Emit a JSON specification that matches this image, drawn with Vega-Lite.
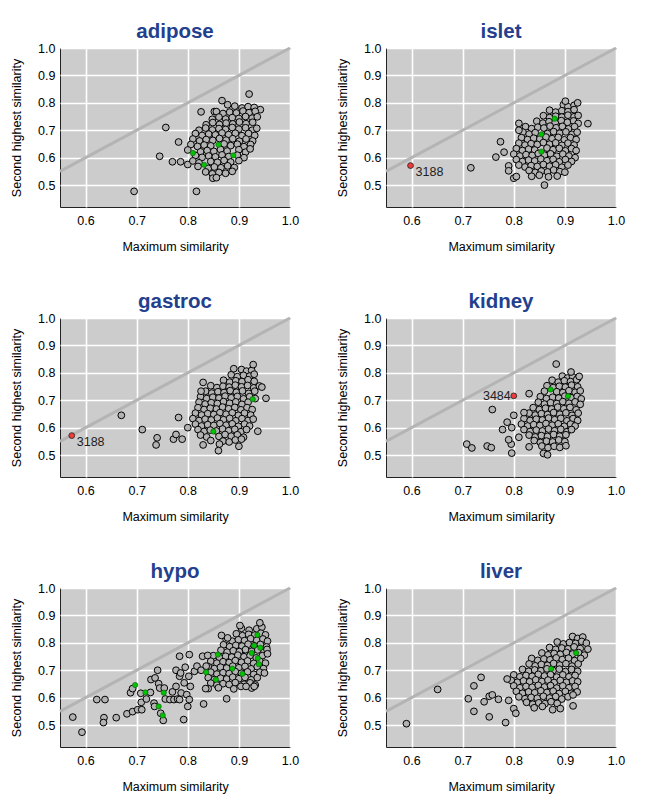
{
"$schema":"https://vega.github.io/schema/vega-lite/v6.json",
"padding":{"left":10,"top":21,"right":5,"bottom":5},
"data":{"values":[
{"p":"adipose","x":0.695,"y":0.477},{"p":"adipose","x":0.817,"y":0.477},{"p":"adipose","x":0.745,"y":0.605},{"p":"adipose","x":0.757,"y":0.71},{"p":"adipose","x":0.782,"y":0.657},{"p":"adipose","x":0.77,"y":0.585},{"p":"adipose","x":0.786,"y":0.585},{"p":"adipose","x":0.826,"y":0.767},{"p":"adipose","x":0.92,"y":0.832},{"p":"adipose","x":0.942,"y":0.775},{"p":"adipose","x":0.867,"y":0.808},{"p":"adipose","x":0.878,"y":0.793},{"p":"adipose","x":0.852,"y":0.768},{"p":"adipose","x":0.8,"y":0.575},
{"p":"adipose","x":0.892,"y":0.788},{"p":"adipose","x":0.906,"y":0.781},{"p":"adipose","x":0.918,"y":0.786},{"p":"adipose","x":0.93,"y":0.783},
{"p":"adipose","x":0.856,"y":0.768},{"p":"adipose","x":0.869,"y":0.761},{"p":"adipose","x":0.882,"y":0.766},{"p":"adipose","x":0.895,"y":0.763},{"p":"adipose","x":0.908,"y":0.77},{"p":"adipose","x":0.92,"y":0.764},{"p":"adipose","x":0.932,"y":0.769},
{"p":"adipose","x":0.848,"y":0.74},{"p":"adipose","x":0.861,"y":0.748},{"p":"adipose","x":0.874,"y":0.741},{"p":"adipose","x":0.887,"y":0.746},{"p":"adipose","x":0.9,"y":0.743},{"p":"adipose","x":0.913,"y":0.75},{"p":"adipose","x":0.926,"y":0.744},{"p":"adipose","x":0.936,"y":0.749},
{"p":"adipose","x":0.836,"y":0.72},{"p":"adipose","x":0.849,"y":0.728},{"p":"adipose","x":0.862,"y":0.721},{"p":"adipose","x":0.875,"y":0.726},{"p":"adipose","x":0.888,"y":0.723},{"p":"adipose","x":0.901,"y":0.73},{"p":"adipose","x":0.914,"y":0.724},{"p":"adipose","x":0.927,"y":0.729},
{"p":"adipose","x":0.822,"y":0.7},{"p":"adipose","x":0.835,"y":0.708},{"p":"adipose","x":0.848,"y":0.701},{"p":"adipose","x":0.861,"y":0.706},{"p":"adipose","x":0.874,"y":0.703},{"p":"adipose","x":0.887,"y":0.71},{"p":"adipose","x":0.9,"y":0.704},{"p":"adipose","x":0.913,"y":0.709},{"p":"adipose","x":0.926,"y":0.7},{"p":"adipose","x":0.935,"y":0.707},
{"p":"adipose","x":0.815,"y":0.688},{"p":"adipose","x":0.828,"y":0.681},{"p":"adipose","x":0.841,"y":0.686},{"p":"adipose","x":0.854,"y":0.683},{"p":"adipose","x":0.867,"y":0.69},{"p":"adipose","x":0.88,"y":0.684},{"p":"adipose","x":0.893,"y":0.689},{"p":"adipose","x":0.906,"y":0.68},{"p":"adipose","x":0.919,"y":0.688},{"p":"adipose","x":0.931,"y":0.681},
{"p":"adipose","x":0.81,"y":0.668},{"p":"adipose","x":0.823,"y":0.661},{"p":"adipose","x":0.836,"y":0.666},{"p":"adipose","x":0.849,"y":0.663},{"p":"adipose","x":0.862,"y":0.67},{"p":"adipose","x":0.875,"y":0.664},{"p":"adipose","x":0.888,"y":0.669},{"p":"adipose","x":0.901,"y":0.66},{"p":"adipose","x":0.914,"y":0.668},{"p":"adipose","x":0.927,"y":0.661},
{"p":"adipose","x":0.806,"y":0.648},{"p":"adipose","x":0.819,"y":0.641},{"p":"adipose","x":0.832,"y":0.646},{"p":"adipose","x":0.845,"y":0.643},{"p":"adipose","x":0.871,"y":0.65},{"p":"adipose","x":0.884,"y":0.644},{"p":"adipose","x":0.897,"y":0.649},{"p":"adipose","x":0.91,"y":0.64},{"p":"adipose","x":0.923,"y":0.648},
{"p":"adipose","x":0.8,"y":0.628},{"p":"adipose","x":0.825,"y":0.621},{"p":"adipose","x":0.838,"y":0.626},{"p":"adipose","x":0.851,"y":0.623},{"p":"adipose","x":0.864,"y":0.63},{"p":"adipose","x":0.877,"y":0.624},{"p":"adipose","x":0.9,"y":0.629},{"p":"adipose","x":0.913,"y":0.62},{"p":"adipose","x":0.922,"y":0.632},
{"p":"adipose","x":0.815,"y":0.608},{"p":"adipose","x":0.828,"y":0.601},{"p":"adipose","x":0.841,"y":0.606},{"p":"adipose","x":0.854,"y":0.603},{"p":"adipose","x":0.867,"y":0.61},{"p":"adipose","x":0.88,"y":0.604},{"p":"adipose","x":0.897,"y":0.609},{"p":"adipose","x":0.91,"y":0.6},
{"p":"adipose","x":0.81,"y":0.588},{"p":"adipose","x":0.822,"y":0.581},{"p":"adipose","x":0.845,"y":0.586},{"p":"adipose","x":0.858,"y":0.583},{"p":"adipose","x":0.871,"y":0.59},{"p":"adipose","x":0.884,"y":0.584},{"p":"adipose","x":0.9,"y":0.589},
{"p":"adipose","x":0.82,"y":0.568},{"p":"adipose","x":0.84,"y":0.561},{"p":"adipose","x":0.852,"y":0.566},{"p":"adipose","x":0.865,"y":0.563},{"p":"adipose","x":0.878,"y":0.57},{"p":"adipose","x":0.891,"y":0.564},
{"p":"adipose","x":0.835,"y":0.548},{"p":"adipose","x":0.848,"y":0.541},{"p":"adipose","x":0.861,"y":0.546},{"p":"adipose","x":0.874,"y":0.543},{"p":"adipose","x":0.887,"y":0.55},
{"p":"adipose","x":0.849,"y":0.525},{"p":"adipose","x":0.856,"y":0.527},
{"p":"adipose","x":0.81,"y":0.617,"c":"g"},{"p":"adipose","x":0.832,"y":0.574,"c":"g"},{"p":"adipose","x":0.86,"y":0.647,"c":"g"},{"p":"adipose","x":0.889,"y":0.608,"c":"g"},

{"p":"islet","x":0.897,"y":0.793},{"p":"islet","x":0.906,"y":0.786},{"p":"islet","x":0.918,"y":0.791},
{"p":"islet","x":0.87,"y":0.773},{"p":"islet","x":0.882,"y":0.766},{"p":"islet","x":0.894,"y":0.771},{"p":"islet","x":0.906,"y":0.768},{"p":"islet","x":0.918,"y":0.775},
{"p":"islet","x":0.858,"y":0.753},{"p":"islet","x":0.87,"y":0.746},{"p":"islet","x":0.882,"y":0.751},{"p":"islet","x":0.894,"y":0.748},{"p":"islet","x":0.906,"y":0.755},{"p":"islet","x":0.918,"y":0.749},{"p":"islet","x":0.926,"y":0.754},
{"p":"islet","x":0.845,"y":0.733},{"p":"islet","x":0.857,"y":0.726},{"p":"islet","x":0.869,"y":0.731},{"p":"islet","x":0.881,"y":0.728},{"p":"islet","x":0.893,"y":0.735},{"p":"islet","x":0.905,"y":0.729},{"p":"islet","x":0.917,"y":0.734},{"p":"islet","x":0.926,"y":0.725},
{"p":"islet","x":0.823,"y":0.713},{"p":"islet","x":0.835,"y":0.706},{"p":"islet","x":0.847,"y":0.711},{"p":"islet","x":0.859,"y":0.708},{"p":"islet","x":0.871,"y":0.715},{"p":"islet","x":0.883,"y":0.709},{"p":"islet","x":0.895,"y":0.714},{"p":"islet","x":0.907,"y":0.705},{"p":"islet","x":0.919,"y":0.713},
{"p":"islet","x":0.818,"y":0.693},{"p":"islet","x":0.83,"y":0.686},{"p":"islet","x":0.842,"y":0.691},{"p":"islet","x":0.866,"y":0.688},{"p":"islet","x":0.878,"y":0.695},{"p":"islet","x":0.89,"y":0.689},{"p":"islet","x":0.902,"y":0.694},{"p":"islet","x":0.914,"y":0.685},{"p":"islet","x":0.924,"y":0.693},
{"p":"islet","x":0.815,"y":0.673},{"p":"islet","x":0.827,"y":0.666},{"p":"islet","x":0.839,"y":0.671},{"p":"islet","x":0.851,"y":0.668},{"p":"islet","x":0.863,"y":0.675},{"p":"islet","x":0.875,"y":0.669},{"p":"islet","x":0.887,"y":0.674},{"p":"islet","x":0.899,"y":0.665},{"p":"islet","x":0.911,"y":0.673},{"p":"islet","x":0.922,"y":0.666},
{"p":"islet","x":0.81,"y":0.653},{"p":"islet","x":0.822,"y":0.646},{"p":"islet","x":0.834,"y":0.651},{"p":"islet","x":0.846,"y":0.648},{"p":"islet","x":0.858,"y":0.655},{"p":"islet","x":0.87,"y":0.649},{"p":"islet","x":0.882,"y":0.654},{"p":"islet","x":0.894,"y":0.645},{"p":"islet","x":0.906,"y":0.653},{"p":"islet","x":0.918,"y":0.646},
{"p":"islet","x":0.805,"y":0.633},{"p":"islet","x":0.817,"y":0.626},{"p":"islet","x":0.829,"y":0.631},{"p":"islet","x":0.841,"y":0.628},{"p":"islet","x":0.865,"y":0.635},{"p":"islet","x":0.877,"y":0.629},{"p":"islet","x":0.889,"y":0.634},{"p":"islet","x":0.901,"y":0.625},{"p":"islet","x":0.913,"y":0.633},{"p":"islet","x":0.922,"y":0.626},
{"p":"islet","x":0.8,"y":0.613},{"p":"islet","x":0.812,"y":0.606},{"p":"islet","x":0.824,"y":0.611},{"p":"islet","x":0.836,"y":0.608},{"p":"islet","x":0.848,"y":0.615},{"p":"islet","x":0.86,"y":0.609},{"p":"islet","x":0.872,"y":0.614},{"p":"islet","x":0.884,"y":0.605},{"p":"islet","x":0.896,"y":0.613},{"p":"islet","x":0.908,"y":0.606},{"p":"islet","x":0.92,"y":0.6},
{"p":"islet","x":0.805,"y":0.593},{"p":"islet","x":0.817,"y":0.586},{"p":"islet","x":0.829,"y":0.591},{"p":"islet","x":0.841,"y":0.588},{"p":"islet","x":0.853,"y":0.595},{"p":"islet","x":0.865,"y":0.589},{"p":"islet","x":0.877,"y":0.594},{"p":"islet","x":0.889,"y":0.585},{"p":"islet","x":0.901,"y":0.593},{"p":"islet","x":0.913,"y":0.586},
{"p":"islet","x":0.81,"y":0.573},{"p":"islet","x":0.822,"y":0.566},{"p":"islet","x":0.834,"y":0.571},{"p":"islet","x":0.846,"y":0.568},{"p":"islet","x":0.858,"y":0.575},{"p":"islet","x":0.87,"y":0.569},{"p":"islet","x":0.882,"y":0.574},{"p":"islet","x":0.894,"y":0.565},{"p":"islet","x":0.906,"y":0.573},
{"p":"islet","x":0.83,"y":0.553},{"p":"islet","x":0.842,"y":0.546},{"p":"islet","x":0.854,"y":0.551},{"p":"islet","x":0.866,"y":0.548},{"p":"islet","x":0.878,"y":0.555},{"p":"islet","x":0.89,"y":0.549},{"p":"islet","x":0.9,"y":0.547},
{"p":"islet","x":0.835,"y":0.532},{"p":"islet","x":0.85,"y":0.536},{"p":"islet","x":0.868,"y":0.53},{"p":"islet","x":0.885,"y":0.533},
{"p":"islet","x":0.716,"y":0.563},{"p":"islet","x":0.765,"y":0.602},{"p":"islet","x":0.774,"y":0.658},{"p":"islet","x":0.781,"y":0.62},{"p":"islet","x":0.79,"y":0.57},{"p":"islet","x":0.79,"y":0.552},{"p":"islet","x":0.8,"y":0.525},{"p":"islet","x":0.805,"y":0.531},{"p":"islet","x":0.86,"y":0.5},{"p":"islet","x":0.945,"y":0.724},{"p":"islet","x":0.925,"y":0.8},{"p":"islet","x":0.901,"y":0.806},{"p":"islet","x":0.81,"y":0.725},{"p":"islet","x":0.81,"y":0.7},
{"p":"islet","x":0.854,"y":0.685,"c":"g"},{"p":"islet","x":0.854,"y":0.622,"c":"g"},{"p":"islet","x":0.88,"y":0.742,"c":"g"},
{"p":"islet","x":0.598,"y":0.571,"c":"r","l":"3188"},

{"p":"gastroc","x":0.905,"y":0.812},{"p":"gastroc","x":0.915,"y":0.806},{"p":"gastroc","x":0.925,"y":0.809},
{"p":"gastroc","x":0.885,"y":0.793},{"p":"gastroc","x":0.897,"y":0.786},{"p":"gastroc","x":0.909,"y":0.791},{"p":"gastroc","x":0.921,"y":0.788},{"p":"gastroc","x":0.93,"y":0.795},
{"p":"gastroc","x":0.87,"y":0.773},{"p":"gastroc","x":0.882,"y":0.766},{"p":"gastroc","x":0.894,"y":0.771},{"p":"gastroc","x":0.906,"y":0.768},{"p":"gastroc","x":0.918,"y":0.775},{"p":"gastroc","x":0.93,"y":0.769},
{"p":"gastroc","x":0.845,"y":0.753},{"p":"gastroc","x":0.857,"y":0.746},{"p":"gastroc","x":0.869,"y":0.751},{"p":"gastroc","x":0.881,"y":0.748},{"p":"gastroc","x":0.893,"y":0.755},{"p":"gastroc","x":0.905,"y":0.749},{"p":"gastroc","x":0.917,"y":0.754},{"p":"gastroc","x":0.929,"y":0.745},{"p":"gastroc","x":0.94,"y":0.752},
{"p":"gastroc","x":0.835,"y":0.733},{"p":"gastroc","x":0.847,"y":0.726},{"p":"gastroc","x":0.859,"y":0.731},{"p":"gastroc","x":0.871,"y":0.728},{"p":"gastroc","x":0.883,"y":0.735},{"p":"gastroc","x":0.895,"y":0.729},{"p":"gastroc","x":0.907,"y":0.734},{"p":"gastroc","x":0.919,"y":0.725},{"p":"gastroc","x":0.931,"y":0.733},
{"p":"gastroc","x":0.825,"y":0.713},{"p":"gastroc","x":0.837,"y":0.706},{"p":"gastroc","x":0.849,"y":0.711},{"p":"gastroc","x":0.861,"y":0.708},{"p":"gastroc","x":0.873,"y":0.715},{"p":"gastroc","x":0.885,"y":0.709},{"p":"gastroc","x":0.897,"y":0.714},{"p":"gastroc","x":0.909,"y":0.705},{"p":"gastroc","x":0.921,"y":0.713},{"p":"gastroc","x":0.932,"y":0.706},
{"p":"gastroc","x":0.822,"y":0.693},{"p":"gastroc","x":0.834,"y":0.686},{"p":"gastroc","x":0.846,"y":0.691},{"p":"gastroc","x":0.858,"y":0.688},{"p":"gastroc","x":0.87,"y":0.695},{"p":"gastroc","x":0.882,"y":0.689},{"p":"gastroc","x":0.894,"y":0.694},{"p":"gastroc","x":0.906,"y":0.685},{"p":"gastroc","x":0.918,"y":0.693},
{"p":"gastroc","x":0.82,"y":0.673},{"p":"gastroc","x":0.832,"y":0.666},{"p":"gastroc","x":0.844,"y":0.671},{"p":"gastroc","x":0.856,"y":0.668},{"p":"gastroc","x":0.868,"y":0.675},{"p":"gastroc","x":0.88,"y":0.669},{"p":"gastroc","x":0.892,"y":0.674},{"p":"gastroc","x":0.904,"y":0.665},{"p":"gastroc","x":0.916,"y":0.673},{"p":"gastroc","x":0.926,"y":0.666},
{"p":"gastroc","x":0.815,"y":0.653},{"p":"gastroc","x":0.827,"y":0.646},{"p":"gastroc","x":0.839,"y":0.651},{"p":"gastroc","x":0.851,"y":0.648},{"p":"gastroc","x":0.863,"y":0.655},{"p":"gastroc","x":0.875,"y":0.649},{"p":"gastroc","x":0.887,"y":0.654},{"p":"gastroc","x":0.899,"y":0.645},{"p":"gastroc","x":0.911,"y":0.653},{"p":"gastroc","x":0.923,"y":0.646},
{"p":"gastroc","x":0.81,"y":0.633},{"p":"gastroc","x":0.822,"y":0.626},{"p":"gastroc","x":0.834,"y":0.631},{"p":"gastroc","x":0.846,"y":0.628},{"p":"gastroc","x":0.858,"y":0.635},{"p":"gastroc","x":0.87,"y":0.629},{"p":"gastroc","x":0.882,"y":0.634},{"p":"gastroc","x":0.894,"y":0.625},{"p":"gastroc","x":0.906,"y":0.633},{"p":"gastroc","x":0.918,"y":0.626},{"p":"gastroc","x":0.928,"y":0.631},
{"p":"gastroc","x":0.815,"y":0.613},{"p":"gastroc","x":0.827,"y":0.606},{"p":"gastroc","x":0.839,"y":0.611},{"p":"gastroc","x":0.851,"y":0.608},{"p":"gastroc","x":0.863,"y":0.615},{"p":"gastroc","x":0.875,"y":0.609},{"p":"gastroc","x":0.887,"y":0.614},{"p":"gastroc","x":0.899,"y":0.605},{"p":"gastroc","x":0.911,"y":0.613},{"p":"gastroc","x":0.921,"y":0.606},
{"p":"gastroc","x":0.82,"y":0.593},{"p":"gastroc","x":0.832,"y":0.586},{"p":"gastroc","x":0.844,"y":0.591},{"p":"gastroc","x":0.856,"y":0.588},{"p":"gastroc","x":0.868,"y":0.595},{"p":"gastroc","x":0.88,"y":0.589},{"p":"gastroc","x":0.892,"y":0.594},{"p":"gastroc","x":0.904,"y":0.585},{"p":"gastroc","x":0.915,"y":0.593},
{"p":"gastroc","x":0.825,"y":0.573},{"p":"gastroc","x":0.837,"y":0.566},{"p":"gastroc","x":0.861,"y":0.568},{"p":"gastroc","x":0.873,"y":0.575},{"p":"gastroc","x":0.885,"y":0.569},{"p":"gastroc","x":0.897,"y":0.574},{"p":"gastroc","x":0.909,"y":0.565},
{"p":"gastroc","x":0.845,"y":0.553},{"p":"gastroc","x":0.869,"y":0.551},{"p":"gastroc","x":0.881,"y":0.548},{"p":"gastroc","x":0.893,"y":0.555},{"p":"gastroc","x":0.905,"y":0.558},
{"p":"gastroc","x":0.83,"y":0.537},{"p":"gastroc","x":0.862,"y":0.54},{"p":"gastroc","x":0.9,"y":0.532},
{"p":"gastroc","x":0.67,"y":0.645},{"p":"gastroc","x":0.711,"y":0.593},{"p":"gastroc","x":0.74,"y":0.563},{"p":"gastroc","x":0.738,"y":0.537},{"p":"gastroc","x":0.772,"y":0.558},{"p":"gastroc","x":0.777,"y":0.575},{"p":"gastroc","x":0.789,"y":0.558},{"p":"gastroc","x":0.782,"y":0.637},{"p":"gastroc","x":0.8,"y":0.6},{"p":"gastroc","x":0.86,"y":0.516},{"p":"gastroc","x":0.937,"y":0.587},{"p":"gastroc","x":0.953,"y":0.707},{"p":"gastroc","x":0.945,"y":0.748},{"p":"gastroc","x":0.928,"y":0.83},{"p":"gastroc","x":0.89,"y":0.815},{"p":"gastroc","x":0.83,"y":0.765},{"p":"gastroc","x":0.826,"y":0.733},
{"p":"gastroc","x":0.85,"y":0.586,"c":"g"},{"p":"gastroc","x":0.927,"y":0.704,"c":"g"},
{"p":"gastroc","x":0.573,"y":0.571,"c":"r","l":"3188"},

{"p":"kidney","x":0.895,"y":0.788},{"p":"kidney","x":0.905,"y":0.781},{"p":"kidney","x":0.915,"y":0.786},{"p":"kidney","x":0.925,"y":0.779},
{"p":"kidney","x":0.875,"y":0.773},{"p":"kidney","x":0.887,"y":0.766},{"p":"kidney","x":0.899,"y":0.771},{"p":"kidney","x":0.911,"y":0.768},{"p":"kidney","x":0.923,"y":0.775},
{"p":"kidney","x":0.865,"y":0.753},{"p":"kidney","x":0.877,"y":0.746},{"p":"kidney","x":0.889,"y":0.751},{"p":"kidney","x":0.901,"y":0.748},{"p":"kidney","x":0.913,"y":0.755},{"p":"kidney","x":0.925,"y":0.749},
{"p":"kidney","x":0.86,"y":0.733},{"p":"kidney","x":0.884,"y":0.731},{"p":"kidney","x":0.896,"y":0.728},{"p":"kidney","x":0.908,"y":0.735},{"p":"kidney","x":0.92,"y":0.729},{"p":"kidney","x":0.93,"y":0.734},
{"p":"kidney","x":0.852,"y":0.713},{"p":"kidney","x":0.864,"y":0.706},{"p":"kidney","x":0.876,"y":0.711},{"p":"kidney","x":0.888,"y":0.708},{"p":"kidney","x":0.9,"y":0.715},{"p":"kidney","x":0.912,"y":0.709},{"p":"kidney","x":0.924,"y":0.714},{"p":"kidney","x":0.932,"y":0.705},
{"p":"kidney","x":0.848,"y":0.693},{"p":"kidney","x":0.86,"y":0.686},{"p":"kidney","x":0.872,"y":0.691},{"p":"kidney","x":0.884,"y":0.688},{"p":"kidney","x":0.896,"y":0.695},{"p":"kidney","x":0.908,"y":0.689},{"p":"kidney","x":0.92,"y":0.694},{"p":"kidney","x":0.93,"y":0.685},
{"p":"kidney","x":0.838,"y":0.673},{"p":"kidney","x":0.85,"y":0.666},{"p":"kidney","x":0.862,"y":0.671},{"p":"kidney","x":0.874,"y":0.668},{"p":"kidney","x":0.886,"y":0.675},{"p":"kidney","x":0.898,"y":0.669},{"p":"kidney","x":0.91,"y":0.674},{"p":"kidney","x":0.922,"y":0.665},
{"p":"kidney","x":0.83,"y":0.653},{"p":"kidney","x":0.842,"y":0.646},{"p":"kidney","x":0.854,"y":0.651},{"p":"kidney","x":0.866,"y":0.648},{"p":"kidney","x":0.878,"y":0.655},{"p":"kidney","x":0.89,"y":0.649},{"p":"kidney","x":0.902,"y":0.654},{"p":"kidney","x":0.914,"y":0.645},{"p":"kidney","x":0.926,"y":0.653},
{"p":"kidney","x":0.82,"y":0.633},{"p":"kidney","x":0.832,"y":0.626},{"p":"kidney","x":0.844,"y":0.631},{"p":"kidney","x":0.856,"y":0.628},{"p":"kidney","x":0.868,"y":0.635},{"p":"kidney","x":0.88,"y":0.629},{"p":"kidney","x":0.892,"y":0.634},{"p":"kidney","x":0.904,"y":0.625},{"p":"kidney","x":0.916,"y":0.633},{"p":"kidney","x":0.925,"y":0.626},
{"p":"kidney","x":0.815,"y":0.613},{"p":"kidney","x":0.827,"y":0.606},{"p":"kidney","x":0.839,"y":0.611},{"p":"kidney","x":0.851,"y":0.608},{"p":"kidney","x":0.863,"y":0.615},{"p":"kidney","x":0.875,"y":0.609},{"p":"kidney","x":0.887,"y":0.614},{"p":"kidney","x":0.899,"y":0.605},{"p":"kidney","x":0.911,"y":0.613},{"p":"kidney","x":0.92,"y":0.606},
{"p":"kidney","x":0.82,"y":0.593},{"p":"kidney","x":0.832,"y":0.586},{"p":"kidney","x":0.844,"y":0.591},{"p":"kidney","x":0.856,"y":0.588},{"p":"kidney","x":0.868,"y":0.595},{"p":"kidney","x":0.88,"y":0.589},{"p":"kidney","x":0.892,"y":0.594},{"p":"kidney","x":0.904,"y":0.585},{"p":"kidney","x":0.913,"y":0.593},
{"p":"kidney","x":0.83,"y":0.573},{"p":"kidney","x":0.842,"y":0.566},{"p":"kidney","x":0.854,"y":0.571},{"p":"kidney","x":0.866,"y":0.568},{"p":"kidney","x":0.878,"y":0.575},{"p":"kidney","x":0.89,"y":0.569},{"p":"kidney","x":0.902,"y":0.574},
{"p":"kidney","x":0.84,"y":0.553},{"p":"kidney","x":0.852,"y":0.546},{"p":"kidney","x":0.864,"y":0.551},{"p":"kidney","x":0.876,"y":0.548},{"p":"kidney","x":0.888,"y":0.555},{"p":"kidney","x":0.9,"y":0.549},
{"p":"kidney","x":0.83,"y":0.53},{"p":"kidney","x":0.855,"y":0.533},{"p":"kidney","x":0.867,"y":0.527},{"p":"kidney","x":0.879,"y":0.532},{"p":"kidney","x":0.89,"y":0.528},{"p":"kidney","x":0.902,"y":0.534},
{"p":"kidney","x":0.858,"y":0.506},{"p":"kidney","x":0.866,"y":0.501},
{"p":"kidney","x":0.83,"y":0.724},{"p":"kidney","x":0.758,"y":0.666},{"p":"kidney","x":0.708,"y":0.54},{"p":"kidney","x":0.718,"y":0.526},{"p":"kidney","x":0.748,"y":0.533},{"p":"kidney","x":0.756,"y":0.527},{"p":"kidney","x":0.796,"y":0.507},{"p":"kidney","x":0.795,"y":0.54},{"p":"kidney","x":0.79,"y":0.556},{"p":"kidney","x":0.778,"y":0.593},{"p":"kidney","x":0.787,"y":0.62},{"p":"kidney","x":0.796,"y":0.6},{"p":"kidney","x":0.8,"y":0.645},{"p":"kidney","x":0.82,"y":0.655},{"p":"kidney","x":0.81,"y":0.565},{"p":"kidney","x":0.883,"y":0.832},{"p":"kidney","x":0.912,"y":0.803},{"p":"kidney","x":0.928,"y":0.787},
{"p":"kidney","x":0.872,"y":0.739,"c":"g"},{"p":"kidney","x":0.906,"y":0.715,"c":"g"},
{"p":"kidney","x":0.8,"y":0.716,"c":"r","l":"3484"},

{"p":"hypo","x":0.905,"y":0.853},{"p":"hypo","x":0.92,"y":0.846},{"p":"hypo","x":0.935,"y":0.851},{"p":"hypo","x":0.945,"y":0.857},
{"p":"hypo","x":0.895,"y":0.833},{"p":"hypo","x":0.907,"y":0.826},{"p":"hypo","x":0.919,"y":0.831},{"p":"hypo","x":0.931,"y":0.828},{"p":"hypo","x":0.943,"y":0.835},{"p":"hypo","x":0.952,"y":0.829},
{"p":"hypo","x":0.875,"y":0.813},{"p":"hypo","x":0.887,"y":0.806},{"p":"hypo","x":0.899,"y":0.811},{"p":"hypo","x":0.911,"y":0.808},{"p":"hypo","x":0.923,"y":0.815},{"p":"hypo","x":0.935,"y":0.809},{"p":"hypo","x":0.947,"y":0.814},{"p":"hypo","x":0.956,"y":0.806},
{"p":"hypo","x":0.87,"y":0.793},{"p":"hypo","x":0.882,"y":0.786},{"p":"hypo","x":0.894,"y":0.791},{"p":"hypo","x":0.906,"y":0.788},{"p":"hypo","x":0.918,"y":0.795},{"p":"hypo","x":0.93,"y":0.789},{"p":"hypo","x":0.942,"y":0.794},{"p":"hypo","x":0.954,"y":0.785},
{"p":"hypo","x":0.865,"y":0.773},{"p":"hypo","x":0.877,"y":0.766},{"p":"hypo","x":0.889,"y":0.771},{"p":"hypo","x":0.901,"y":0.768},{"p":"hypo","x":0.913,"y":0.775},{"p":"hypo","x":0.925,"y":0.769},{"p":"hypo","x":0.937,"y":0.774},{"p":"hypo","x":0.949,"y":0.765},
{"p":"hypo","x":0.85,"y":0.753},{"p":"hypo","x":0.862,"y":0.746},{"p":"hypo","x":0.874,"y":0.751},{"p":"hypo","x":0.886,"y":0.748},{"p":"hypo","x":0.898,"y":0.755},{"p":"hypo","x":0.91,"y":0.749},{"p":"hypo","x":0.922,"y":0.754},{"p":"hypo","x":0.934,"y":0.745},{"p":"hypo","x":0.946,"y":0.753},
{"p":"hypo","x":0.845,"y":0.733},{"p":"hypo","x":0.857,"y":0.726},{"p":"hypo","x":0.869,"y":0.731},{"p":"hypo","x":0.881,"y":0.728},{"p":"hypo","x":0.893,"y":0.735},{"p":"hypo","x":0.905,"y":0.729},{"p":"hypo","x":0.917,"y":0.734},{"p":"hypo","x":0.929,"y":0.725},{"p":"hypo","x":0.941,"y":0.733},{"p":"hypo","x":0.952,"y":0.726},
{"p":"hypo","x":0.84,"y":0.713},{"p":"hypo","x":0.852,"y":0.706},{"p":"hypo","x":0.864,"y":0.711},{"p":"hypo","x":0.876,"y":0.708},{"p":"hypo","x":0.888,"y":0.715},{"p":"hypo","x":0.9,"y":0.709},{"p":"hypo","x":0.912,"y":0.714},{"p":"hypo","x":0.924,"y":0.705},{"p":"hypo","x":0.936,"y":0.713},{"p":"hypo","x":0.948,"y":0.706},
{"p":"hypo","x":0.845,"y":0.693},{"p":"hypo","x":0.857,"y":0.686},{"p":"hypo","x":0.869,"y":0.691},{"p":"hypo","x":0.881,"y":0.688},{"p":"hypo","x":0.893,"y":0.695},{"p":"hypo","x":0.905,"y":0.689},{"p":"hypo","x":0.917,"y":0.694},{"p":"hypo","x":0.929,"y":0.685},{"p":"hypo","x":0.941,"y":0.693},
{"p":"hypo","x":0.84,"y":0.673},{"p":"hypo","x":0.852,"y":0.666},{"p":"hypo","x":0.864,"y":0.671},{"p":"hypo","x":0.876,"y":0.668},{"p":"hypo","x":0.888,"y":0.675},{"p":"hypo","x":0.9,"y":0.669},{"p":"hypo","x":0.912,"y":0.674},{"p":"hypo","x":0.924,"y":0.665},{"p":"hypo","x":0.936,"y":0.673},
{"p":"hypo","x":0.845,"y":0.653},{"p":"hypo","x":0.857,"y":0.646},{"p":"hypo","x":0.869,"y":0.651},{"p":"hypo","x":0.881,"y":0.648},{"p":"hypo","x":0.893,"y":0.655},{"p":"hypo","x":0.91,"y":0.649},{"p":"hypo","x":0.922,"y":0.654},{"p":"hypo","x":0.932,"y":0.646},
{"p":"hypo","x":0.84,"y":0.633},{"p":"hypo","x":0.86,"y":0.636},{"p":"hypo","x":0.89,"y":0.632},{"p":"hypo","x":0.925,"y":0.635},
{"p":"hypo","x":0.575,"y":0.529},{"p":"hypo","x":0.593,"y":0.474},{"p":"hypo","x":0.622,"y":0.593},{"p":"hypo","x":0.638,"y":0.593},{"p":"hypo","x":0.636,"y":0.527},{"p":"hypo","x":0.635,"y":0.509},{"p":"hypo","x":0.66,"y":0.527},{"p":"hypo","x":0.681,"y":0.541},{"p":"hypo","x":0.692,"y":0.549},{"p":"hypo","x":0.688,"y":0.618},{"p":"hypo","x":0.692,"y":0.633},{"p":"hypo","x":0.702,"y":0.556},{"p":"hypo","x":0.71,"y":0.556},{"p":"hypo","x":0.709,"y":0.583},{"p":"hypo","x":0.708,"y":0.616},{"p":"hypo","x":0.719,"y":0.595},{"p":"hypo","x":0.727,"y":0.619},{"p":"hypo","x":0.728,"y":0.666},{"p":"hypo","x":0.736,"y":0.672},{"p":"hypo","x":0.734,"y":0.58},{"p":"hypo","x":0.735,"y":0.568},{"p":"hypo","x":0.741,"y":0.7},{"p":"hypo","x":0.743,"y":0.651},{"p":"hypo","x":0.745,"y":0.635},{"p":"hypo","x":0.747,"y":0.543},{"p":"hypo","x":0.752,"y":0.517},{"p":"hypo","x":0.754,"y":0.635},{"p":"hypo","x":0.756,"y":0.595},{"p":"hypo","x":0.765,"y":0.593},{"p":"hypo","x":0.77,"y":0.621},{"p":"hypo","x":0.777,"y":0.641},{"p":"hypo","x":0.773,"y":0.593},{"p":"hypo","x":0.78,"y":0.595},{"p":"hypo","x":0.777,"y":0.7},{"p":"hypo","x":0.784,"y":0.751},{"p":"hypo","x":0.784,"y":0.678},{"p":"hypo","x":0.786,"y":0.69},{"p":"hypo","x":0.787,"y":0.617},{"p":"hypo","x":0.784,"y":0.593},{"p":"hypo","x":0.792,"y":0.52},{"p":"hypo","x":0.795,"y":0.711},{"p":"hypo","x":0.793,"y":0.654},{"p":"hypo","x":0.798,"y":0.611},{"p":"hypo","x":0.8,"y":0.568},{"p":"hypo","x":0.803,"y":0.593},{"p":"hypo","x":0.803,"y":0.757},{"p":"hypo","x":0.802,"y":0.678},{"p":"hypo","x":0.805,"y":0.641},{"p":"hypo","x":0.813,"y":0.696},{"p":"hypo","x":0.818,"y":0.715},{"p":"hypo","x":0.826,"y":0.7},{"p":"hypo","x":0.829,"y":0.751},{"p":"hypo","x":0.831,"y":0.577},{"p":"hypo","x":0.835,"y":0.633},{"p":"hypo","x":0.836,"y":0.715},{"p":"hypo","x":0.839,"y":0.754},{"p":"hypo","x":0.866,"y":0.827},{"p":"hypo","x":0.878,"y":0.818},{"p":"hypo","x":0.876,"y":0.596},{"p":"hypo","x":0.902,"y":0.863},{"p":"hypo","x":0.941,"y":0.873},{"p":"hypo","x":0.955,"y":0.776},{"p":"hypo","x":0.956,"y":0.76},{"p":"hypo","x":0.95,"y":0.69},{"p":"hypo","x":0.904,"y":0.641},{"p":"hypo","x":0.914,"y":0.641},{"p":"hypo","x":0.93,"y":0.641},
{"p":"hypo","x":0.697,"y":0.646,"c":"g"},{"p":"hypo","x":0.717,"y":0.619,"c":"g"},{"p":"hypo","x":0.743,"y":0.568,"c":"g"},{"p":"hypo","x":0.751,"y":0.535,"c":"g"},{"p":"hypo","x":0.753,"y":0.618,"c":"g"},{"p":"hypo","x":0.836,"y":0.693,"c":"g"},{"p":"hypo","x":0.855,"y":0.666,"c":"g"},{"p":"hypo","x":0.859,"y":0.757,"c":"g"},{"p":"hypo","x":0.887,"y":0.706,"c":"g"},{"p":"hypo","x":0.907,"y":0.687,"c":"g"},{"p":"hypo","x":0.936,"y":0.829,"c":"g"},{"p":"hypo","x":0.93,"y":0.79,"c":"g"},{"p":"hypo","x":0.925,"y":0.763,"c":"g"},{"p":"hypo","x":0.942,"y":0.782,"c":"g"},{"p":"hypo","x":0.937,"y":0.744,"c":"g"},{"p":"hypo","x":0.939,"y":0.722,"c":"g"},

{"p":"liver","x":0.915,"y":0.823},{"p":"liver","x":0.925,"y":0.816},{"p":"liver","x":0.935,"y":0.821},
{"p":"liver","x":0.885,"y":0.803},{"p":"liver","x":0.897,"y":0.796},{"p":"liver","x":0.909,"y":0.801},{"p":"liver","x":0.921,"y":0.798},{"p":"liver","x":0.933,"y":0.805},{"p":"liver","x":0.942,"y":0.799},
{"p":"liver","x":0.87,"y":0.783},{"p":"liver","x":0.882,"y":0.776},{"p":"liver","x":0.894,"y":0.781},{"p":"liver","x":0.906,"y":0.778},{"p":"liver","x":0.918,"y":0.785},{"p":"liver","x":0.93,"y":0.779},{"p":"liver","x":0.945,"y":0.777},
{"p":"liver","x":0.855,"y":0.763},{"p":"liver","x":0.867,"y":0.756},{"p":"liver","x":0.879,"y":0.761},{"p":"liver","x":0.891,"y":0.758},{"p":"liver","x":0.903,"y":0.765},{"p":"liver","x":0.915,"y":0.759},{"p":"liver","x":0.927,"y":0.764},{"p":"liver","x":0.938,"y":0.755},
{"p":"liver","x":0.835,"y":0.743},{"p":"liver","x":0.847,"y":0.736},{"p":"liver","x":0.859,"y":0.741},{"p":"liver","x":0.871,"y":0.738},{"p":"liver","x":0.883,"y":0.745},{"p":"liver","x":0.895,"y":0.739},{"p":"liver","x":0.907,"y":0.744},{"p":"liver","x":0.919,"y":0.735},{"p":"liver","x":0.931,"y":0.743},
{"p":"liver","x":0.83,"y":0.723},{"p":"liver","x":0.842,"y":0.716},{"p":"liver","x":0.854,"y":0.721},{"p":"liver","x":0.866,"y":0.718},{"p":"liver","x":0.878,"y":0.725},{"p":"liver","x":0.89,"y":0.719},{"p":"liver","x":0.902,"y":0.724},{"p":"liver","x":0.914,"y":0.715},{"p":"liver","x":0.926,"y":0.723},
{"p":"liver","x":0.817,"y":0.703},{"p":"liver","x":0.829,"y":0.696},{"p":"liver","x":0.841,"y":0.701},{"p":"liver","x":0.853,"y":0.698},{"p":"liver","x":0.865,"y":0.705},{"p":"liver","x":0.877,"y":0.699},{"p":"liver","x":0.889,"y":0.704},{"p":"liver","x":0.901,"y":0.695},{"p":"liver","x":0.913,"y":0.703},{"p":"liver","x":0.925,"y":0.696},
{"p":"liver","x":0.8,"y":0.683},{"p":"liver","x":0.812,"y":0.676},{"p":"liver","x":0.824,"y":0.681},{"p":"liver","x":0.836,"y":0.678},{"p":"liver","x":0.848,"y":0.685},{"p":"liver","x":0.86,"y":0.679},{"p":"liver","x":0.872,"y":0.684},{"p":"liver","x":0.884,"y":0.675},{"p":"liver","x":0.896,"y":0.683},{"p":"liver","x":0.908,"y":0.676},{"p":"liver","x":0.92,"y":0.681},
{"p":"liver","x":0.795,"y":0.663},{"p":"liver","x":0.807,"y":0.656},{"p":"liver","x":0.819,"y":0.661},{"p":"liver","x":0.831,"y":0.658},{"p":"liver","x":0.843,"y":0.665},{"p":"liver","x":0.855,"y":0.659},{"p":"liver","x":0.867,"y":0.664},{"p":"liver","x":0.879,"y":0.655},{"p":"liver","x":0.891,"y":0.663},{"p":"liver","x":0.903,"y":0.656},{"p":"liver","x":0.915,"y":0.661},{"p":"liver","x":0.925,"y":0.658},
{"p":"liver","x":0.8,"y":0.643},{"p":"liver","x":0.812,"y":0.636},{"p":"liver","x":0.824,"y":0.641},{"p":"liver","x":0.836,"y":0.638},{"p":"liver","x":0.848,"y":0.645},{"p":"liver","x":0.86,"y":0.639},{"p":"liver","x":0.872,"y":0.644},{"p":"liver","x":0.884,"y":0.635},{"p":"liver","x":0.896,"y":0.643},{"p":"liver","x":0.908,"y":0.636},{"p":"liver","x":0.92,"y":0.641},
{"p":"liver","x":0.805,"y":0.623},{"p":"liver","x":0.817,"y":0.616},{"p":"liver","x":0.829,"y":0.621},{"p":"liver","x":0.841,"y":0.618},{"p":"liver","x":0.853,"y":0.625},{"p":"liver","x":0.865,"y":0.619},{"p":"liver","x":0.877,"y":0.624},{"p":"liver","x":0.889,"y":0.615},{"p":"liver","x":0.901,"y":0.623},{"p":"liver","x":0.913,"y":0.616},{"p":"liver","x":0.924,"y":0.621},
{"p":"liver","x":0.81,"y":0.603},{"p":"liver","x":0.822,"y":0.596},{"p":"liver","x":0.834,"y":0.601},{"p":"liver","x":0.846,"y":0.598},{"p":"liver","x":0.858,"y":0.605},{"p":"liver","x":0.87,"y":0.599},{"p":"liver","x":0.882,"y":0.604},{"p":"liver","x":0.894,"y":0.595},{"p":"liver","x":0.906,"y":0.603},{"p":"liver","x":0.916,"y":0.61},
{"p":"liver","x":0.825,"y":0.583},{"p":"liver","x":0.837,"y":0.576},{"p":"liver","x":0.849,"y":0.581},{"p":"liver","x":0.861,"y":0.578},{"p":"liver","x":0.873,"y":0.585},{"p":"liver","x":0.885,"y":0.579},
{"p":"liver","x":0.84,"y":0.563},{"p":"liver","x":0.856,"y":0.568},
{"p":"liver","x":0.59,"y":0.505},{"p":"liver","x":0.651,"y":0.63},{"p":"liver","x":0.711,"y":0.596},{"p":"liver","x":0.722,"y":0.643},{"p":"liver","x":0.722,"y":0.55},{"p":"liver","x":0.736,"y":0.674},{"p":"liver","x":0.742,"y":0.585},{"p":"liver","x":0.752,"y":0.605},{"p":"liver","x":0.758,"y":0.61},{"p":"liver","x":0.752,"y":0.53},{"p":"liver","x":0.77,"y":0.594},{"p":"liver","x":0.784,"y":0.509},{"p":"liver","x":0.787,"y":0.668},{"p":"liver","x":0.79,"y":0.59},{"p":"liver","x":0.8,"y":0.56},{"p":"liver","x":0.804,"y":0.543},{"p":"liver","x":0.876,"y":0.556},{"p":"liver","x":0.891,"y":0.56},{"p":"liver","x":0.916,"y":0.57},
{"p":"liver","x":0.873,"y":0.705,"c":"g"},{"p":"liver","x":0.922,"y":0.763,"c":"g"}
]},
"columns":2,
"facet":{"field":"p","type":"nominal","title":null,"sort":["adipose","islet","gastroc","kidney","hypo","liver"],"header":{"title":null,"labelFont":"Liberation Sans","labelFontSize":20.5,"labelFontWeight":"bold","labelColor":"#23408e","labelPadding":0}},
"spacing":{"column":36,"row":37},
"resolve":{"axis":{"x":"independent","y":"independent"}},
"spec":{
"width":230,"height":159,
"layer":[
{"transform":[{"aggregate":[{"op":"count","as":"n"}],"groupby":["p"]}],
"mark":{"type":"rule","color":"#b4b4b4","strokeWidth":3},
"encoding":{
"x":{"datum":0.55,"type":"quantitative","scale":{"domain":[0.55,1],"nice":false,"zero":false},"axis":{"tickCount":5,"format":".1f","title":"Maximum similarity"}},
"y":{"datum":0.55,"type":"quantitative","scale":{"domain":[0.42,1],"nice":false,"zero":false},"axis":{"tickCount":6,"format":".1f","title":"Second highest similarity"}},
"x2":{"datum":1},"y2":{"datum":1}}},
{"transform":[{"filter":"!datum.c"}],
"mark":{"type":"circle","size":46,"fill":"#b3b3b3","fillOpacity":1,"stroke":"#000000","strokeWidth":1,"opacity":1},
"encoding":{
"x":{"field":"x","type":"quantitative","scale":{"domain":[0.55,1],"nice":false,"zero":false},"axis":{"tickCount":5,"format":".1f","title":"Maximum similarity"}},
"y":{"field":"y","type":"quantitative","scale":{"domain":[0.42,1],"nice":false,"zero":false},"axis":{"tickCount":6,"format":".1f","title":"Second highest similarity"}}}},
{"transform":[{"filter":"datum.c==='g'"}],
"mark":{"type":"circle","size":28,"fill":"#00c400","fillOpacity":1,"stroke":"#1d4d1d","strokeWidth":0.6,"opacity":1},
"encoding":{"x":{"field":"x","type":"quantitative"},"y":{"field":"y","type":"quantitative"}}},
{"transform":[{"filter":"datum.c==='r'"}],
"mark":{"type":"circle","size":34,"fill":"#ee3b3b","fillOpacity":1,"stroke":"#222222","strokeWidth":0.8,"opacity":1},
"encoding":{"x":{"field":"x","type":"quantitative"},"y":{"field":"y","type":"quantitative"}}},
{"transform":[{"filter":"datum.l && datum.p!=='kidney'"}],
"mark":{"type":"text","align":"left","baseline":"middle","dx":5,"dy":6,"font":"Liberation Sans","fontSize":12.5,"color":"#222222"},
"encoding":{"x":{"field":"x","type":"quantitative"},"y":{"field":"y","type":"quantitative"},"text":{"field":"l"}}},
{"transform":[{"filter":"datum.l && datum.p==='kidney'"}],
"mark":{"type":"text","align":"right","baseline":"middle","dx":-3,"dy":0,"font":"Liberation Sans","fontSize":12.5,"color":"#222222"},
"encoding":{"x":{"field":"x","type":"quantitative"},"y":{"field":"y","type":"quantitative"},"text":{"field":"l"}}}
]},
"config":{
"font":"Liberation Sans",
"view":{"fill":"#cccccc","stroke":"#222222","strokeWidth":1},
"axis":{"labelFont":"Liberation Sans","labelFontSize":12.5,"labelColor":"#000000","ticks":false,"domain":false,"labelPadding":5,"labelFlush":false,"labelOverlap":false,"grid":true,"gridColor":"#ffffff","gridWidth":1.6,"gridOpacity":1,"titleFont":"Liberation Sans","titleFontSize":12.5,"titleFontWeight":"normal","titleColor":"#000000"},
"axisX":{"titlePadding":14,"labelPadding":7},
"axisY":{"titlePadding":14}
}
}
